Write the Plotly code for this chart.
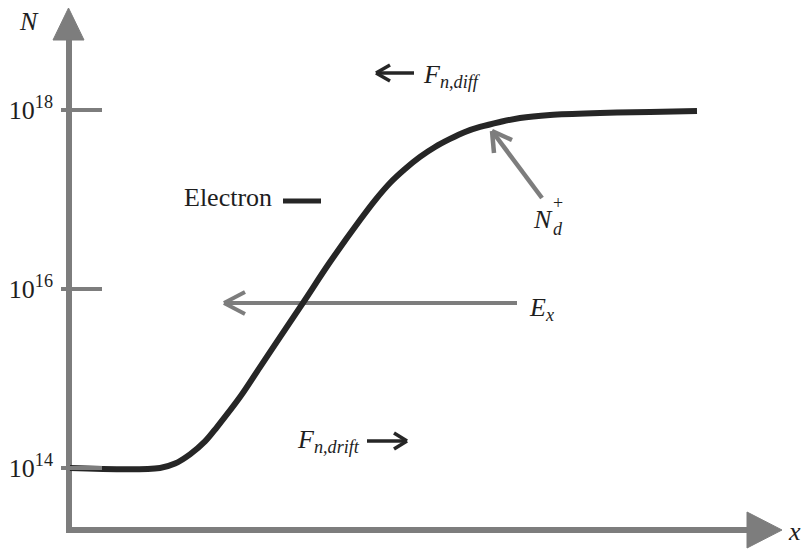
import plotly.graph_objects as go

# Donor / electron concentration profile N(x) across a graded region
position = [9, 99, 114, 129, 144, 156, 179, 199, 219, 242, 269, 299, 314, 329, 344, 359, 374,
            389, 404, 419, 439, 459, 489, 539, 589, 636]
concentration = [1.0e14, 1.0e14, 1.12e14, 1.42e14, 1.98e14, 2.87e14, 6.2e14, 1.34e15, 2.9e15,
                 7.0e15, 2.0e16, 5.9e16, 9.8e16, 1.53e17, 2.19e17, 2.99e17, 3.86e17, 4.75e17,
                 5.68e17, 6.46e17, 7.35e17, 8.15e17, 8.8e17, 9.25e17, 9.5e17, 9.75e17]

tick_values = [1e14, 1e16, 1e18]
tick_labels = ["10<sup>14</sup>", "10<sup>16</sup>", "10<sup>18</sup>"]

W, H = 801, 549
AX_GRAY = "#7d7d7d"
INK = "#262626"
SERIF = "Liberation Serif, Times New Roman, serif"


def px(x):
    return x / W


def py(y):
    return 1 - y / H


fig = go.Figure()
fig.add_trace(go.Scatter(
    x=position, y=concentration, mode="lines",
    line=dict(color=INK, width=6, shape="spline", smoothing=1.0),
    hoverinfo="skip", showlegend=False,
))

shapes = []


def seg(x0, y0, x1, y1, color, width):
    shapes.append(dict(type="line", xref="paper", yref="paper",
                       x0=px(x0), y0=py(y0), x1=px(x1), y1=py(y1),
                       line=dict(color=color, width=width), layer="below"))


def poly(points, color):
    path = "M " + " L ".join(f"{px(a)},{py(b)}" for a, b in points) + " Z"
    shapes.append(dict(type="path", xref="paper", yref="paper", path=path,
                       fillcolor=color, line=dict(color=color, width=1), layer="below"))


# axes with filled arrowheads
seg(69, 532, 69, 38, AX_GRAY, 6)
poly([(53, 40), (84, 40), (68.5, 8)], AX_GRAY)
seg(66, 530, 750, 530, AX_GRAY, 6)
poly([(747, 512), (747, 548), (782, 530)], AX_GRAY)

# E_x field arrow
seg(517, 303, 224, 303, AX_GRAY, 4)
seg(224, 303, 245, 292, AX_GRAY, 4)
seg(224, 303, 245, 314, AX_GRAY, 4)

# N_d^+ pointer
seg(542, 198, 492, 131, AX_GRAY, 4.5)
seg(492, 131, 512, 140, AX_GRAY, 4.5)
seg(492, 131, 494, 153, AX_GRAY, 4.5)

# diffusion force arrow (to the left)
seg(414, 73, 376, 73, INK, 3.5)
seg(376, 73, 390, 65, INK, 3.5)
seg(376, 73, 390, 81, INK, 3.5)

# drift force arrow (to the right)
seg(367, 441, 407, 441, INK, 3.5)
seg(407, 441, 394, 433, INK, 3.5)
seg(407, 441, 394, 449, INK, 3.5)

# electron legend dash
seg(283, 201, 321, 201, INK, 5)

annotations = []


def label(x, y, text, size=26, xanchor="left", yanchor="middle"):
    annotations.append(dict(xref="paper", yref="paper", x=px(x), y=py(y), text=text,
                            showarrow=False, xanchor=xanchor, yanchor=yanchor,
                            font=dict(family=SERIF, size=size, color="#1e1e1e")))


label(29, 22, "<i>N</i>", 26, xanchor="center")
label(794, 531, "<i>x</i>", 26, xanchor="center")
label(182, 197, "Electron", 26)
label(421, 76, "<i>F</i><sub><i>n,diff</i></sub>", 26)
label(295, 441, "<i>F</i><sub><i>n,drift</i></sub>", 26)
label(527, 309, "<i>E</i><sub><i>x</i></sub>", 26)
label(543, 219, "<i>N</i>", 26, xanchor="center")
label(558, 203, "+", 18, xanchor="center")
label(558, 229, "<i>d</i>", 18, xanchor="center")

fig.update_layout(
    width=W, height=H,
    margin=dict(l=0, r=0, t=0, b=0),
    paper_bgcolor="white", plot_bgcolor="rgba(0,0,0,0)",
    shapes=shapes, annotations=annotations,
    xaxis=dict(domain=[61 / W, 1], range=[0, 740], visible=False),
    yaxis=dict(
        type="log", domain=[0, 1],
        range=[14 - (H - 468) / 89.5, 14 + 468 / 89.5],
        tickvals=tick_values, ticktext=tick_labels,
        ticks="inside", ticklen=41, tickwidth=4, tickcolor=AX_GRAY,
        showline=False, showgrid=False, zeroline=False,
        ticklabelstandoff=7,
        tickfont=dict(family=SERIF, size=26, color="#1e1e1e"),
    ),
)

fig.write_html("out.html")
